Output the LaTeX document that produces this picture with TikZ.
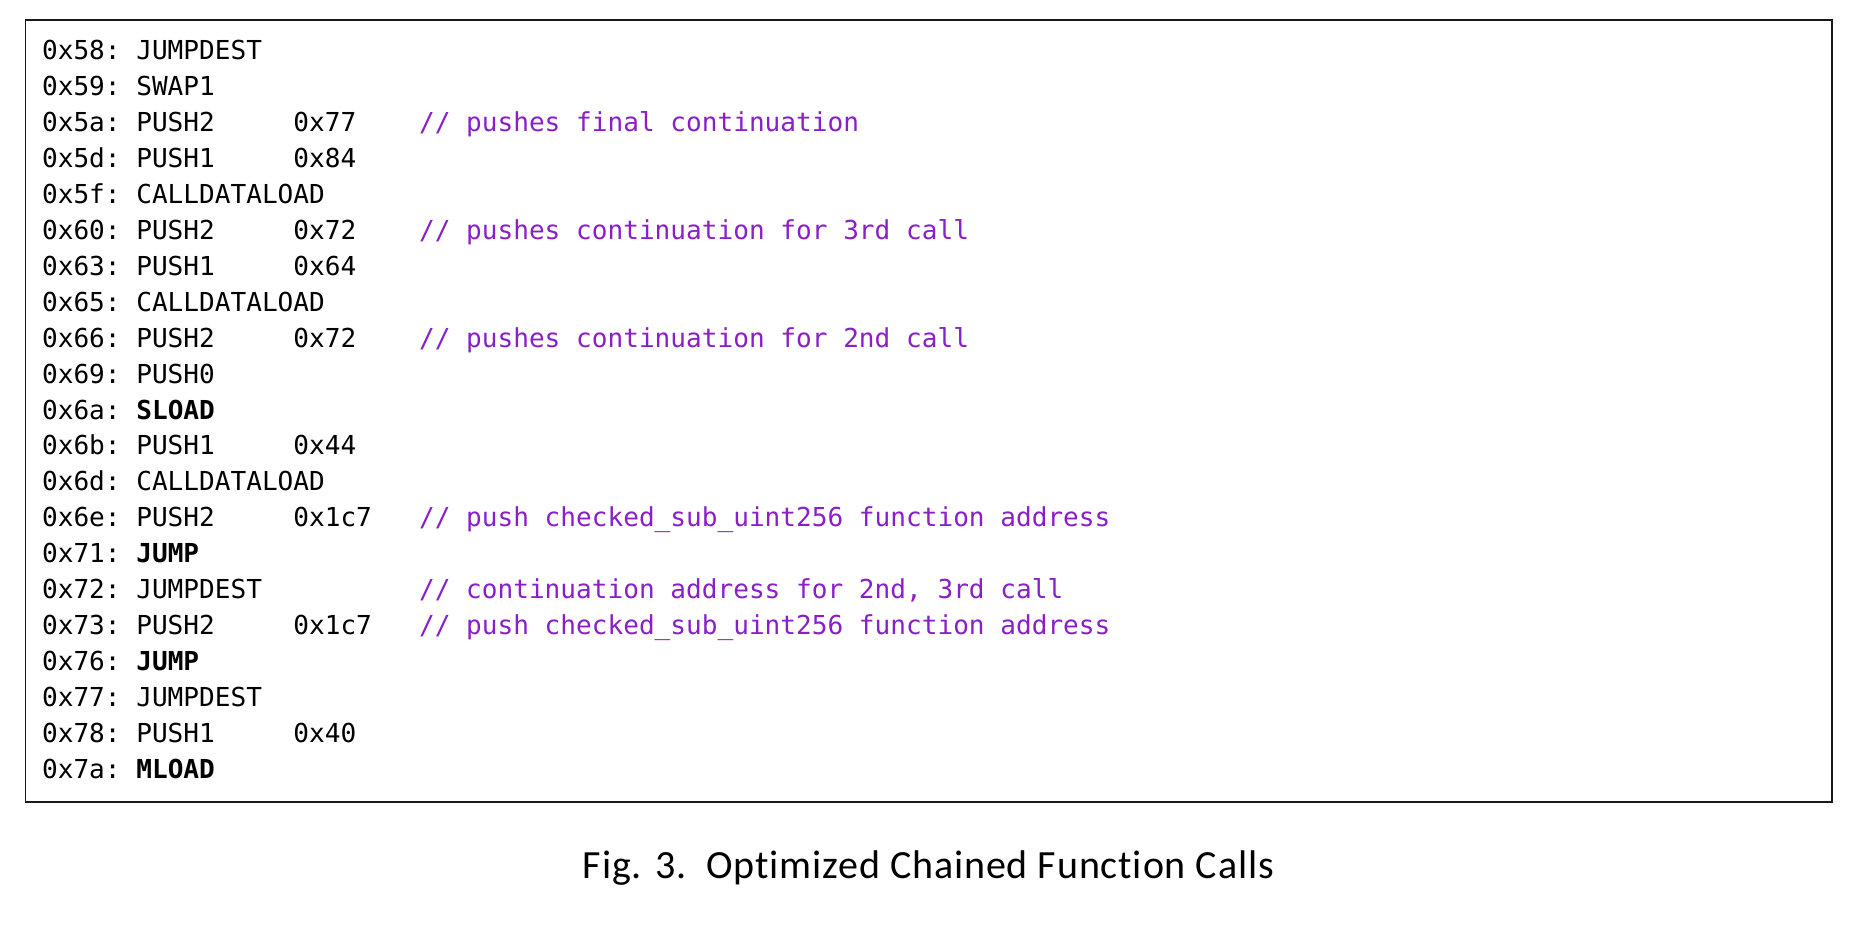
\documentclass[tikz,border=0pt]{standalone}
\usepackage{fontspec}
\usepackage{tikz}
\setmainfont{Carlito}[Ligatures=NoCommon,LetterSpace=2.2]
\newfontfamily\codefont{DejaVu Sans Mono}
\definecolor{comment}{RGB}{138,30,200}
\newlength\cwd
\setlength\cwd{7.853pt}

\begin{document}
\begin{tikzpicture}[x=0.5pt,y=-0.5pt,
  code/.style={anchor=base west,inner sep=0pt,font=\codefont\fontsize{13.05}{18}\selectfont},
  caption/.style={anchor=base,inner sep=0pt,font=\fontsize{20}{24}\selectfont}]

\useasboundingbox (0,0) rectangle (1858,934);
\draw[line width=0.7pt,black!90] (25.7,20) rectangle (1832,802);

\foreach \i/\addr/\op/\arg/\cmt in {
  0/0x58:/JUMPDEST//,
  1/0x59:/SWAP1//,
  2/0x5a:/PUSH2/0x77/{// pushes final continuation},
  3/0x5d:/PUSH1/0x84/,
  4/0x5f:/CALLDATALOAD//,
  5/0x60:/PUSH2/0x72/{// pushes continuation for 3rd call},
  6/0x63:/PUSH1/0x64/,
  7/0x65:/CALLDATALOAD//,
  8/0x66:/PUSH2/0x72/{// pushes continuation for 2nd call},
  9/0x69:/PUSH0//,
  10/0x6a:/{\bfseries SLOAD}//,
  11/0x6b:/PUSH1/0x44/,
  12/0x6d:/CALLDATALOAD//,
  13/0x6e:/PUSH2/0x1c7/{// push checked\_sub\_uint256 function address},
  14/0x71:/{\bfseries JUMP}//,
  15/0x72:/JUMPDEST//{// continuation address for 2nd, 3rd call},
  16/0x73:/PUSH2/0x1c7/{// push checked\_sub\_uint256 function address},
  17/0x76:/{\bfseries JUMP}//,
  18/0x77:/JUMPDEST//,
  19/0x78:/PUSH1/0x40/,
  20/0x7a:/{\bfseries MLOAD}//} {
  \node[code] (line\i) at (41.7, 59.3 + \i * 35.97)
    {\makebox[6\cwd][l]{\addr}\makebox[10\cwd][l]{\op}\makebox[8\cwd][l]{\arg}{\color{comment}\cmt}};
}

\node[caption] (cap) at (928.5, 878) {Fig. 3.\enspace Optimized Chained Function Calls};
\end{tikzpicture}
\end{document}
